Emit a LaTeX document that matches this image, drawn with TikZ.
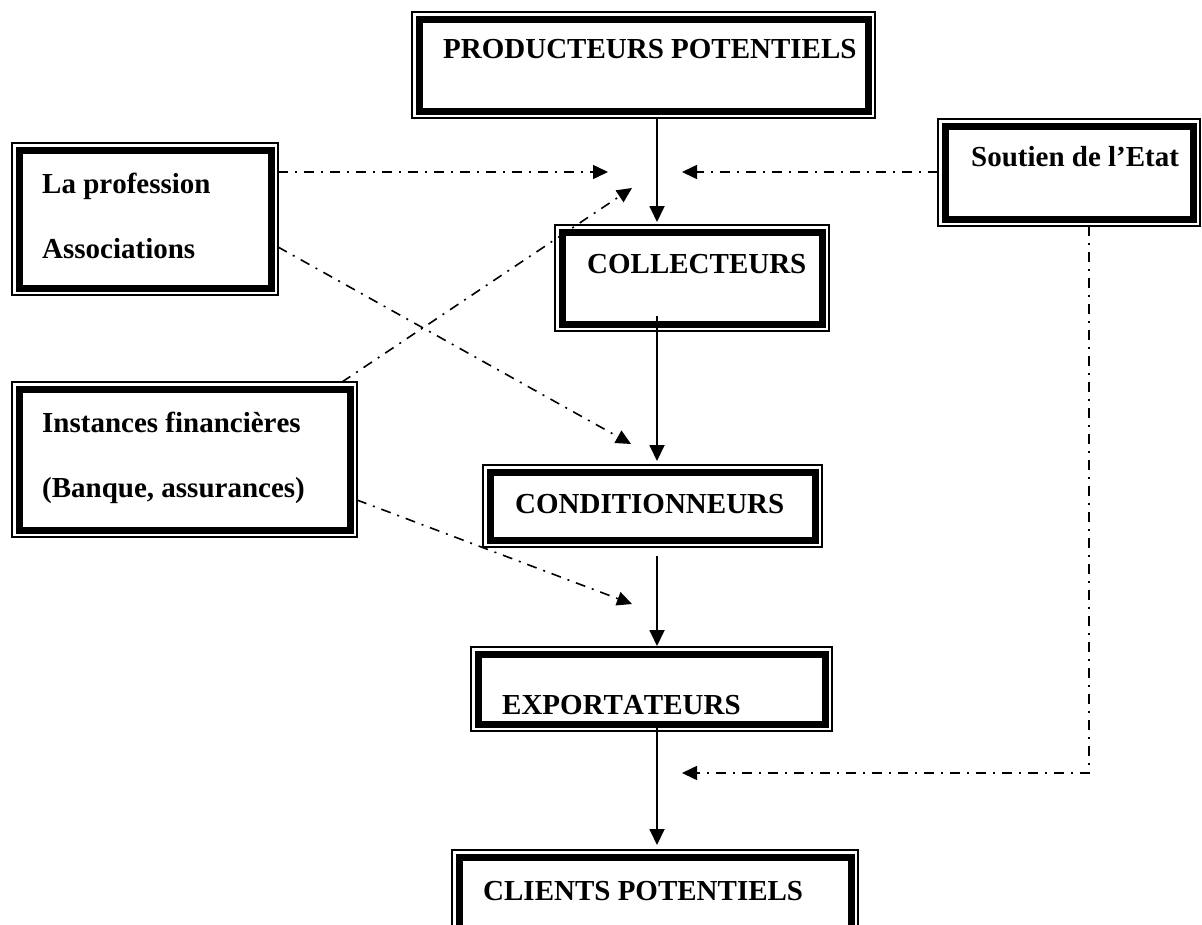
\documentclass[tikz,border=0pt]{standalone}
\usepackage{fontspec}
\setmainfont{Liberation Serif}[Kerning=Off]
\usetikzlibrary{arrows.meta}
\begin{document}
\begin{tikzpicture}[x=1pt,y=-1pt,
  box/.style={draw, line width=1.2pt, inner sep=0pt, outer sep=0pt, anchor=north west},
  thickline/.style={line width=7pt},
  lbl/.style={anchor=base west, inner sep=0pt, font=\fontsize{29}{29}\selectfont\bfseries},
  flow/.style={line width=1.8pt, -{Triangle[width=15pt,length=16pt]}},
  infl/.style={line width=1.6pt, dash pattern=on 10pt off 7pt on 2pt off 7pt, -{Triangle[width=14pt,length=15pt]}}
]
\useasboundingbox (0,0) rectangle (1202,924);
\clip (0,0) rectangle (1202,924);
% boxes
\node[box, minimum width=463pt, minimum height=106pt] (prod) at (412,12) {};
\node[box, minimum width=266pt, minimum height=152pt] (prof) at (12,143) {};
\node[box, minimum width=262pt, minimum height=107pt] (sout) at (938,119) {};
\node[box, minimum width=274pt, minimum height=106pt] (coll) at (555,225) {};
\node[box, minimum width=345pt, minimum height=155pt] (inst) at (12,382) {};
\node[box, minimum width=339pt, minimum height=82pt] (cond) at (483,465) {};
\node[box, minimum width=361pt, minimum height=84pt] (expo) at (471,647) {};
\node[box, minimum width=406pt, minimum height=110pt] (cli) at (452,850) {};
\foreach \n in {prod,prof,sout,coll,inst,cond,expo,cli}
  \draw[thickline] ([shift={(7,7)}]\n.north west) rectangle ([shift={(-7,-7)}]\n.south east);
% texts
\node[lbl] (prodt) at (443,58) {PRODUCTEURS POTENTIELS};
\node[lbl] (proft1) at (42,193) {La profession};
\node[lbl] (proft2) at (42,258) {Associations};
\node[lbl] (soutt) at (971,166) {Soutien de l’Etat};
\node[lbl] (collt) at (587,273) {COLLECTEURS};
\node[lbl] (instt1) at (42,432) {Instances financières};
\node[lbl] (instt2) at (42,497) {(Banque, assurances)};
\node[lbl] (condt) at (515,513) {CONDITIONNEURS};
\node[lbl] (expot) at (502,714) {EXPORTATEURS};
\node[lbl] (clit) at (483,900) {CLIENTS POTENTIELS};
% main flow
\coordinate (axis) at (657,0);
\draw[flow] (prod.south -| axis) -- ([yshift=3pt]coll.north -| axis);
\draw[flow] ([yshift=15pt]coll.south -| axis) -- ([yshift=4pt]cond.north -| axis);
\draw[flow] ([yshift=-9pt]cond.south -| axis) -- ([yshift=1pt]expo.north -| axis);
\draw[flow] ([yshift=6pt]expo.south -| axis) -- ([yshift=5pt]cli.north -| axis);
% influences
\coordinate (t1) at (608,172);
\coordinate (t2) at (682,172);
\coordinate (t3) at (632,188);
\coordinate (t4) at (631,444);
\coordinate (t5) at (632,604);
\coordinate (c6) at (1089,773);
\coordinate (t6) at (682,773);
\draw[infl] ([shift={(0,29)}]prof.north east) -- (t1);
\draw[infl] ([shift={(0,53)}]sout.north west) -- (t2);
\draw[infl] ([shift={(-15,0)}]inst.north east) -- (t3);
\draw[infl] ([shift={(0,104)}]prof.north east) -- (t4);
\draw[infl] ([shift={(0,118)}]inst.north east) -- (t5);
\draw[infl] (sout.south -| c6) -- (c6) -- (t6);
\end{tikzpicture}
\end{document}
